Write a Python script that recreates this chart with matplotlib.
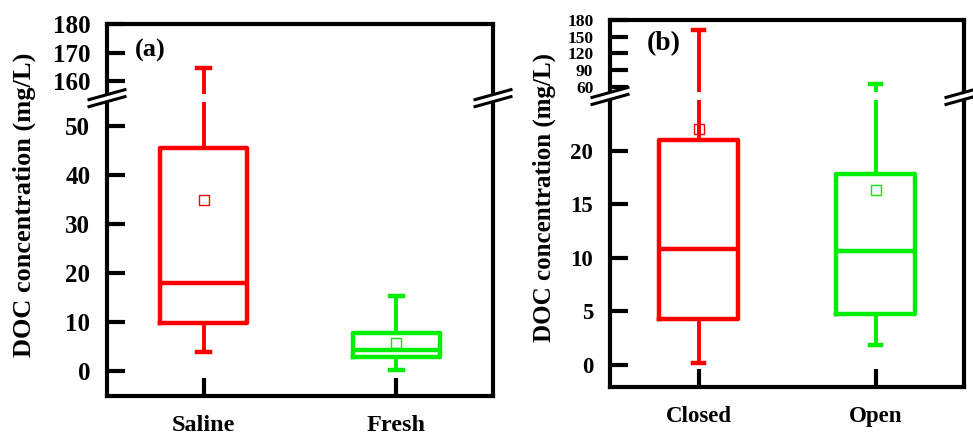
import numpy as np
import matplotlib
matplotlib.use("Agg")
import matplotlib.pyplot as plt
from matplotlib.patches import Polygon, Rectangle

plt.rcParams['font.family'] = ['Liberation Serif', 'DejaVu Serif']
plt.rcParams['font.weight'] = 'bold'

# panel (a): Saline vs Fresh
groups_a = ['Saline', 'Fresh']
lo_a = [3.9, 0.2]
q1_a = [9.8, 2.9]
med_a = [18.0, 4.3]
q3_a = [45.5, 7.7]
hi_a = [164.6, 15.3]
mean_a = [34.9, 5.7]
lower_ticks_a = [0, 10, 20, 30, 40, 50]
upper_ticks_a = [160, 170, 180]

# panel (b): Closed vs Open
groups_b = ['Closed', 'Open']
lo_b = [0.2, 1.9]
q1_b = [4.3, 4.8]
med_b = [10.8, 10.6]
q3_b = [21.0, 17.8]
hi_b = [162.6, 65.0]
mean_b = [22.0, 16.3]
lower_ticks_b = [0, 5, 10, 15, 20]
upper_ticks_b = [60, 90, 120, 150, 180]

colors = ['#ff0000', '#00ee00']
FIG_W, FIG_H = 973, 437


def broken_scale(lo_top, hi_bot, k):
    # piecewise linear: lower part 1:1, upper part compressed by k
    def fwd(v):
        v = np.asarray(v, dtype=float)
        return np.where(v <= lo_top, v,
                        np.where(v >= hi_bot, lo_top + (v - hi_bot) * k, lo_top))

    def inv(y):
        y = np.asarray(y, dtype=float)
        return np.where(y <= lo_top, y, hi_bot + (y - lo_top) / k)
    return fwd, inv


def draw_panel(ax, groups, lo, q1, med, q3, hi, mean, lo_top, hi_bot, k,
               ymin, ymax, lower_ticks, upper_ticks, ytick_fs, upper_fs, xtick_fs, xpad):
    ax.set_yscale('function', functions=broken_scale(lo_top, hi_bot, k))
    stats = []
    for i, g in enumerate(groups):
        stats.append(dict(label=g, whislo=lo[i], q1=q1[i], med=med[i], q3=q3[i],
                          whishi=hi[i], mean=mean[i], fliers=[]))
    for i, s in enumerate(stats):
        c = colors[i]
        ax.bxp([s], positions=[i + 1], widths=0.45, capwidths=0.065,
               showmeans=True, showfliers=False, patch_artist=False,
               boxprops=dict(color=c, linewidth=3.2),
               medianprops=dict(color=c, linewidth=3.2),
               whiskerprops=dict(color=c, linewidth=2.8),
               capprops=dict(color=c, linewidth=3.2),
               meanprops=dict(marker='s', markerfacecolor='none',
                              markeredgecolor=c, markeredgewidth=1.0,
                              markersize=6.5))
    ax.set_xlim(0.5, 2.5)
    ax.set_ylim(ymin, ymax)
    ax.set_xticks([1, 2])
    ax.set_xticklabels(groups, fontsize=xtick_fs, fontweight='bold')
    ticks = lower_ticks + upper_ticks
    ax.set_yticks(ticks)
    labels = ax.set_yticklabels([str(t) for t in ticks], fontweight='bold')
    for t, lab in zip(ticks, labels):
        lab.set_fontsize(upper_fs if t in upper_ticks else ytick_fs)
    ax.tick_params(axis='y', direction='in', length=13, width=3, pad=12, right=False)
    ax.tick_params(axis='x', direction='in', length=13, width=3, pad=xpad, top=False)
    for sp in ax.spines.values():
        sp.set_linewidth(3)

    # break position in axes fraction
    f, _ = broken_scale(lo_top, hi_bot, k)
    yb = (lo_top - ymin) / (float(f(ymax)) - ymin)
    pos = ax.get_position()
    w_px = pos.width * FIG_W
    h_px = pos.height * FIG_H
    dx = 18 / w_px
    dy = 5 / h_px
    g = 3.5 / h_px
    # white gap through whiskers at the break
    ax.add_patch(Rectangle((0.02, yb - 4 / h_px), 0.96, 8 / h_px,
                           transform=ax.transAxes, facecolor='white',
                           edgecolor='none', zorder=2.4))
    for x0 in (0, 1):
        ax.add_patch(Polygon([(x0 - dx, yb - dy - g), (x0 + dx, yb + dy - g),
                              (x0 + dx, yb + dy + g), (x0 - dx, yb - dy + g)],
                             closed=True, transform=ax.transAxes, facecolor='white',
                             edgecolor='none', clip_on=False, zorder=5))
        for s in (-g, g):
            ax.plot([x0 - dx, x0 + dx], [yb - dy + s, yb + dy + s], color='black',
                    linewidth=2.2, transform=ax.transAxes, clip_on=False, zorder=6)


fig = plt.figure(figsize=(FIG_W / 100, FIG_H / 100), dpi=100)
ax_a = fig.add_axes([107 / FIG_W, 1 - 396 / FIG_H, 386 / FIG_W, 372 / FIG_H])
ax_b = fig.add_axes([610 / FIG_W, 1 - 387 / FIG_H, 354 / FIG_W, 367 / FIG_H])

draw_panel(ax_a, groups_a, lo_a, q1_a, med_a, q3_a, hi_a, mean_a,
           55.7, 154, 0.582, -5.1, 180, lower_ticks_a, upper_ticks_a, 18, 18, 17.5, 14)
draw_panel(ax_b, groups_b, lo_b, q1_b, med_b, q3_b, hi_b, mean_b,
           25.1, 43, 0.0517, -2.05, 180, lower_ticks_b, upper_ticks_b, 16.5, 12.5, 16.5, 14)

ax_a.text(0.073, 0.93, '(a)', transform=ax_a.transAxes, fontsize=19,
          fontweight='bold', va='center', ha='left')
ax_b.text(0.105, 0.937, '(b)', transform=ax_b.transAxes, fontsize=20,
          fontweight='bold', va='center', ha='left')

fig.text(24 / FIG_W, 1 - 205 / FIG_H, 'DOC concentration (mg/L)', rotation=90,
         fontsize=19, fontweight='bold', ha='center', va='center')
fig.text(544 / FIG_W, 1 - 197 / FIG_H, 'DOC concentration (mg/L)', rotation=90,
         fontsize=18, fontweight='bold', ha='center', va='center')

fig.savefig('out.png', dpi=100)
